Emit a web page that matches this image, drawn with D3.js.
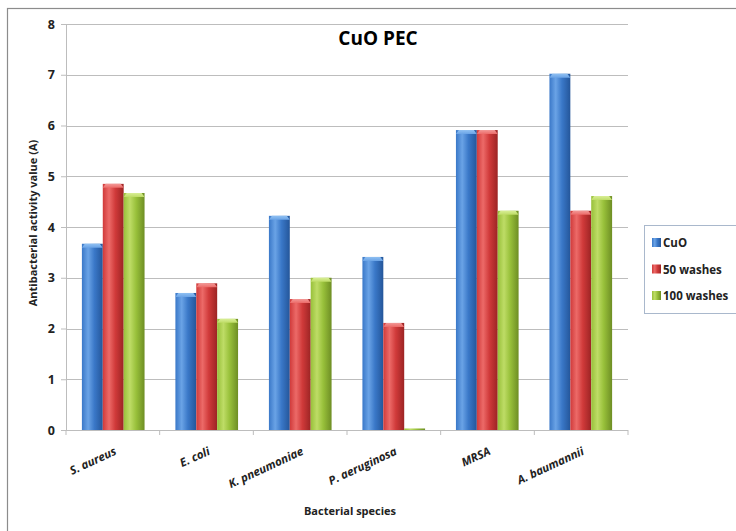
<!DOCTYPE html>
<html>
<head>
<meta charset="utf-8">
<script src="https://cdn.jsdelivr.net/npm/d3@7"></script>
<style>
  body { margin: 0; background: #fff; }
  svg { display: block; font-family: "Open Sans", Lato, sans-serif; }
</style>
</head>
<body>
<svg id="chart" width="736" height="531"></svg>
<script>
// Bacterial species tested
const categories = ["S. aureus", "E. coli", "K. pneumoniae", "P. aeruginosa", "MRSA", "A. baumannii"];
// Antibacterial activity value (A) per series
const seriesNames = ["CuO", "50 washes", "100 washes"];
const cuo       = [3.67, 2.70, 4.22, 3.41, 5.91, 7.02];
const washes50  = [4.85, 2.89, 2.58, 2.11, 5.91, 4.32];
const washes100 = [4.67, 2.19, 3.00, 0.03, 4.32, 4.61];
const yTicks = [0, 1, 2, 3, 4, 5, 6, 7, 8];

const seriesValues = [cuo, washes50, washes100];
const palette = [
  { base: "#3a78c8", light: "#6aa3e6", dark: "#24569a", cap: "#8fc0f2" },
  { base: "#d03a3a", light: "#ec6a68", dark: "#9c2424", cap: "#f29896" },
  { base: "#98c03a", light: "#bedc66", dark: "#6e8e24", cap: "#d8ee96" }
];

const svg = d3.select("#chart");
const margin = { left: 66, right: 108, top: 24, bottom: 101 };
const W = 736, H = 531;
const plotW = W - margin.left - margin.right;
const plotH = H - margin.top - margin.bottom;

// outer chart frame
svg.append("rect")
  .attr("x", 7.5).attr("y", 8.5)
  .attr("width", 740).attr("height", 540)
  .attr("fill", "#fff").attr("stroke", "#8c8c8c").attr("stroke-width", 1.2);

// gradients giving the bars their rounded, shaded look
const defs = svg.append("defs");
palette.forEach((p, i) => {
  const g = defs.append("linearGradient")
    .attr("id", "bar" + i).attr("x1", "0").attr("x2", "1").attr("y1", "0").attr("y2", "0");
  g.append("stop").attr("offset", "0%").attr("stop-color", p.base);
  g.append("stop").attr("offset", "30%").attr("stop-color", p.light);
  g.append("stop").attr("offset", "60%").attr("stop-color", p.base);
  g.append("stop").attr("offset", "100%").attr("stop-color", p.dark);
  const c = defs.append("linearGradient")
    .attr("id", "cap" + i).attr("x1", "0").attr("x2", "0").attr("y1", "0").attr("y2", "1");
  c.append("stop").attr("offset", "0%").attr("stop-color", p.cap);
  c.append("stop").attr("offset", "100%").attr("stop-color", p.light);
});

const g = svg.append("g").attr("transform", `translate(${margin.left},${margin.top})`);

const x0 = d3.scaleBand().domain(categories).range([0, plotW]).paddingInner(0.33).paddingOuter(0.17);
const x1 = d3.scaleBand().domain(seriesNames).range([0, x0.bandwidth()]);
const y = d3.scaleLinear().domain([0, 8]).range([plotH, 0]);

// horizontal gridlines
g.selectAll("line.grid").data(yTicks.filter(t => t > 0)).enter().append("line")
  .attr("class", "grid")
  .attr("x1", 0).attr("x2", plotW)
  .attr("y1", d => Math.round(y(d)) + 0.5).attr("y2", d => Math.round(y(d)) + 0.5)
  .attr("stroke", "#bdbdbd").attr("stroke-width", 1);

// y axis
const yAxis = g.append("g").call(d3.axisLeft(y).tickValues(yTicks).tickSize(5).tickPadding(6).tickFormat(d3.format("d")));
yAxis.select(".domain").attr("stroke", "#bdbdbd");
yAxis.selectAll(".tick line").attr("stroke", "#bdbdbd");
yAxis.selectAll("text").attr("font-size", 12.5).attr("font-weight", "bold").attr("fill", "#222")
  .attr("font-family", "'Open Sans', sans-serif");

// bars
const groups = g.selectAll("g.cat").data(categories).enter().append("g")
  .attr("class", "cat")
  .attr("transform", d => `translate(${x0(d)},0)`);

groups.each(function(cat, ci) {
  const grp = d3.select(this);
  seriesNames.forEach((s, si) => {
    const v = seriesValues[si][ci];
    const bx = x1(s), bw = x1.bandwidth();
    const top = y(v), h = plotH - top;
    grp.append("rect")
      .attr("x", bx).attr("y", top).attr("width", bw).attr("height", h)
      .attr("fill", `url(#bar${si})`);
    if (h > 6) {
      grp.append("path")
        .attr("d", `M${bx},${top + 4} L${bx + 3},${top} L${bx + bw - 3},${top} L${bx + bw},${top + 4} Z`)
        .attr("fill", `url(#cap${si})`);
    }
  });
});

// x axis
const xTicksPos = d3.range(categories.length + 1).map(i => i * plotW / categories.length);
g.append("line")
  .attr("x1", 0).attr("x2", plotW).attr("y1", plotH + 0.5).attr("y2", plotH + 0.5)
  .attr("stroke", "#bdbdbd");
g.selectAll("line.xtick").data(xTicksPos).enter().append("line")
  .attr("class", "xtick")
  .attr("x1", d => d).attr("x2", d => d)
  .attr("y1", plotH).attr("y2", plotH + 5)
  .attr("stroke", "#bdbdbd");

// slanted category labels
g.selectAll("text.xlab").data(categories).enter().append("text")
  .attr("class", "xlab")
  .attr("transform", d => `translate(${x0(d) + x0.bandwidth() / 2 + 4},${plotH + 24}) rotate(-25)`)
  .attr("text-anchor", "end")
  .attr("font-size", 11.5).attr("font-weight", "bold").attr("font-style", "italic")
  .attr("fill", "#222")
  .text(d => d);

// titles
svg.append("text")
  .attr("x", 378).attr("y", 45)
  .attr("text-anchor", "middle")
  .attr("font-size", 19).attr("font-weight", "bold").attr("fill", "#000")
  .text("CuO PEC");

svg.append("text")
  .attr("x", 350).attr("y", 515)
  .attr("text-anchor", "middle")
  .attr("font-size", 11).attr("font-weight", "bold").attr("fill", "#222")
  .text("Bacterial species");

svg.append("text")
  .attr("transform", "translate(37,223) rotate(-90)")
  .attr("text-anchor", "middle")
  .attr("font-size", 11).attr("font-weight", "bold").attr("fill", "#222")
  .text("Antibacterial activity value (A)");

// legend
const lg = svg.append("g").attr("transform", "translate(644,225)");
lg.append("rect")
  .attr("x", 0.5).attr("y", 0.5).attr("width", 100).attr("height", 88)
  .attr("fill", "#fff").attr("stroke", "#a9b8cc");
seriesNames.forEach((s, i) => {
  const row = lg.append("g").attr("transform", `translate(8,${22 + i * 26.5})`);
  row.append("rect")
    .attr("x", 0).attr("y", -9).attr("width", 9).attr("height", 9)
    .attr("fill", `url(#bar${i})`);
  row.append("text")
    .attr("x", 11).attr("y", 0)
    .attr("font-size", 11.5).attr("font-weight", "bold").attr("fill", "#222")
    .text(s);
});
</script>
</body>
</html>
